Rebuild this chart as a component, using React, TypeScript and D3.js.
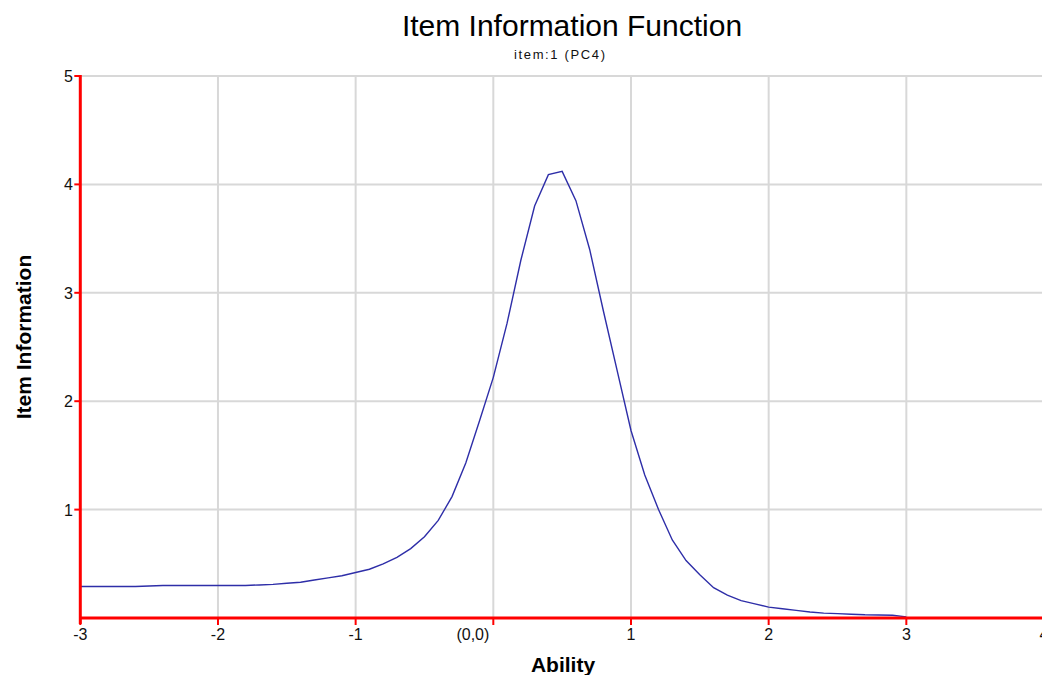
import React from "react";
import * as d3 from "d3";

const width = 1042;
const height = 675;

// ability grid and item information
const ability = [
  -3.0, -2.9, -2.8, -2.7, -2.6, -2.5, -2.4, -2.3, -2.2, -2.1,
  -2.0, -1.9, -1.8, -1.7, -1.6, -1.5, -1.4, -1.3, -1.2, -1.1,
  -1.0, -0.9, -0.8, -0.7, -0.6, -0.5, -0.4, -0.3, -0.2, -0.1,
  0.0, 0.1, 0.2, 0.3, 0.4, 0.5, 0.6, 0.7, 0.8, 0.9,
  1.0, 1.1, 1.2, 1.3, 1.4, 1.5, 1.6, 1.7, 1.8, 1.9,
  2.0, 2.1, 2.2, 2.3, 2.4, 2.5, 2.6, 2.7, 2.8, 2.9, 3.0,
];
const information = [
  0.29, 0.29, 0.29, 0.29, 0.29, 0.295, 0.3, 0.3, 0.3, 0.3,
  0.3, 0.3, 0.3, 0.305, 0.31, 0.32, 0.33, 0.35, 0.37, 0.39,
  0.42, 0.45, 0.5, 0.56, 0.64, 0.75, 0.9, 1.12, 1.43, 1.82,
  2.22, 2.72, 3.3, 3.8, 4.09, 4.12, 3.85, 3.4, 2.83, 2.28,
  1.73, 1.32, 1.0, 0.72, 0.53, 0.4, 0.28, 0.21, 0.16, 0.13,
  0.1, 0.085, 0.07, 0.055, 0.045, 0.04, 0.035, 0.03, 0.028, 0.025, 0.01,
];

const xTicks = [-3, -2, -1, 0, 1, 2, 3, 4];
const xTickLabels = ["-3", "-2", "-1", "(0,0)", "1", "2", "3", "4"];
const yTicks = [1, 2, 3, 4, 5];

const x = d3.scaleLinear().domain([-3, 4]).range([80.3, 1044]);
const y = d3.scaleLinear().domain([0, 5]).range([618, 76]);

const points: [number, number][] = ability.map((a, i) => [a, information[i]]);

const line = d3
  .line<[number, number]>()
  .x((d) => x(d[0]))
  .y((d) => y(d[1]));

const tickFont = "'Liberation Sans Narrow', 'Liberation Sans', Arial, sans-serif";
const font = "'Liberation Sans', Arial, sans-serif";

export default function App() {
  return (
    <svg
      width={width}
      height={height}
      style={{ position: "absolute", left: 0, top: 0, background: "#fff" }}
    >
      {/* grid */}
      {xTicks.slice(1).map((t) => (
        <line key={"gx" + t} x1={x(t)} x2={x(t)} y1={y(5)} y2={y(0)} stroke="#d8d8d8" strokeWidth={2} />
      ))}
      {yTicks.map((t) => (
        <line key={"gy" + t} x1={x(-3)} x2={width} y1={y(t)} y2={y(t)} stroke="#d8d8d8" strokeWidth={2} />
      ))}

      {/* curve */}
      <path d={line(points) ?? ""} fill="none" stroke="#2e2ea8" strokeWidth={1.4} />

      {/* axes */}
      <line x1={x(-3)} x2={x(-3)} y1={y(5) - 1} y2={y(0) + 6} stroke="#ff0000" strokeWidth={3} />
      <line x1={x(-3)} x2={width} y1={y(0)} y2={y(0)} stroke="#ff0000" strokeWidth={3} />
      {xTicks.map((t) => (
        <line key={"tx" + t} x1={x(t)} x2={x(t)} y1={y(0)} y2={y(0) + 7} stroke="#ff0000" strokeWidth={2} />
      ))}
      {yTicks.map((t) => (
        <line key={"ty" + t} x1={x(-3) - 6} x2={x(-3)} y1={y(t)} y2={y(t)} stroke="#ff0000" strokeWidth={2} />
      ))}

      {/* tick labels; the origin label sits left of its tick */}
      {xTicks.map((t, i) => (
        <text
          key={"lx" + t}
          x={t === 0 ? x(t) - 4 : x(t)}
          y={640}
          textAnchor={t === 0 ? "end" : "middle"}
          fontFamily={tickFont}
          fontSize={16}
          fill="#111"
        >
          {xTickLabels[i]}
        </text>
      ))}
      {yTicks.map((t) => (
        <text key={"ly" + t} x={73} y={y(t) + 6} textAnchor="end" fontFamily={tickFont} fontSize={16} fill="#111">
          {t}
        </text>
      ))}

      {/* titles */}
      <text x={572} y={36} textAnchor="middle" fontFamily={font} fontSize={30} fill="#000">
        Item Information Function
      </text>
      <text x={559.5} y={59} textAnchor="middle" fontFamily={font} fontSize={13} textLength={91} lengthAdjust="spacing" fill="#111">
        item:1 (PC4)
      </text>
      <text x={563} y={672} textAnchor="middle" fontFamily={font} fontSize={21} fontWeight="bold" fill="#000">
        Ability
      </text>
      <text
        transform={`translate(31,337) rotate(-90)`}
        textAnchor="middle"
        fontFamily={font}
        fontSize={21}
        fontWeight="bold"
        fill="#000"
      >
        Item Information
      </text>
    </svg>
  );
}
